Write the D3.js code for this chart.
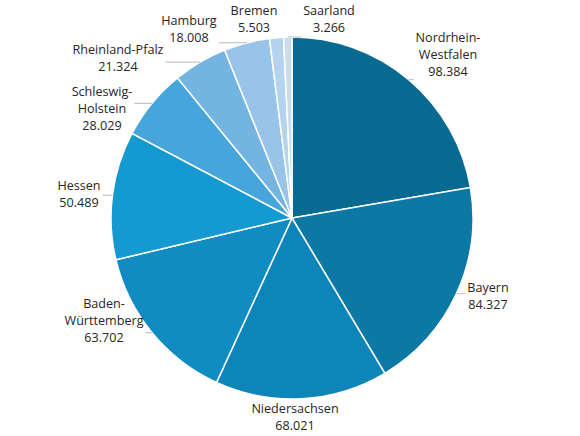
<!DOCTYPE html>
<html>
<head>
<meta charset="utf-8">
<script src="https://cdn.jsdelivr.net/npm/d3@7"></script>
<style>
  body { margin: 0; background: #fff; }
  text { font-family: "Open Sans", "Noto Sans", sans-serif; font-size: 12.6px; fill: #262626; }
</style>
</head>
<body>
<svg id="pie" width="580" height="436"></svg>
<script>
const states = ["Nordrhein-Westfalen","Bayern","Niedersachsen","Baden-Württemberg","Hessen",
                "Schleswig-Holstein","Rheinland-Pfalz","Hamburg","Bremen","Saarland"];
const values = [98384, 84327, 68021, 63702, 50489, 28029, 21324, 18008, 5503, 3266];
const labelLines = [["Nordrhein-","Westfalen"],["Bayern"],["Niedersachsen"],["Baden-","Württemberg"],["Hessen"],
                    ["Schleswig-","Holstein"],["Rheinland-Pfalz"],["Hamburg"],["Bremen"],["Saarland"]];
const colors = ["#086a90","#0b78a6","#0d85b8","#108cc3","#1499d0",
                "#46a6db","#73b4e1","#97c4e8","#b3d3ee","#c6ddf1"];

// label anchors (center x, y of first line)
const labelPos = {
  "Nordrhein-Westfalen": [448, 38],
  "Bayern": [488, 288],
  "Niedersachsen": [295, 409],
  "Baden-Württemberg": [104, 304],
  "Hessen": [79, 186],
  "Schleswig-Holstein": [102, 92],
  "Rheinland-Pfalz": [118, 50],
  "Hamburg": [189, 21],
  "Bremen": [254, 11],
  "Saarland": [329, 11]
};

const svg = d3.select("#pie");
const cx = 292, cy = 218, r = 181;
const fmt = v => d3.format(",")(v).replace(",", ".");

const data = states.map((s, i) => ({ name: s, value: values[i], lines: labelLines[i], color: colors[i] }));
const pie = d3.pie().value(d => d.value).sort(null);
const arcs = pie(data);
const arc = d3.arc().innerRadius(0).outerRadius(r);

const g = svg.append("g").attr("transform", `translate(${cx},${cy})`);
g.selectAll("path").data(arcs).join("path")
  .attr("d", arc)
  .attr("fill", d => d.data.color)
  .attr("stroke", "#fff").attr("stroke-width", 1.5);

const lineH = 17;
arcs.forEach(a => {
  const [lx, ly] = labelPos[a.data.name];
  const t = svg.append("text").attr("text-anchor", "middle");
  const all = a.data.lines.concat([fmt(a.data.value)]);
  all.forEach((s, i) => {
    t.append("tspan").attr("x", lx).attr("y", ly + i * lineH).attr("dy", "0.35em").text(s);
  });
  const bb = t.node().getBBox();
  const mid = (a.startAngle + a.endAngle) / 2;
  const sx = cx + r * Math.sin(mid), sy = cy - r * Math.cos(mid);
  // closest point on label box (padded)
  const pad = 2;
  const ex = Math.max(bb.x - pad, Math.min(sx, bb.x + bb.width + pad));
  const ey = Math.max(bb.y - pad, Math.min(sy, bb.y + bb.height + pad));
  const dist = Math.hypot(ex - sx, ey - sy);
  if (dist > 3) {
    svg.insert("line", "text")
      .attr("x1", sx).attr("y1", sy).attr("x2", ex).attr("y2", ey)
      .attr("stroke", "#a6a6a6").attr("stroke-width", 0.8);
  }
});
</script>
</body>
</html>
